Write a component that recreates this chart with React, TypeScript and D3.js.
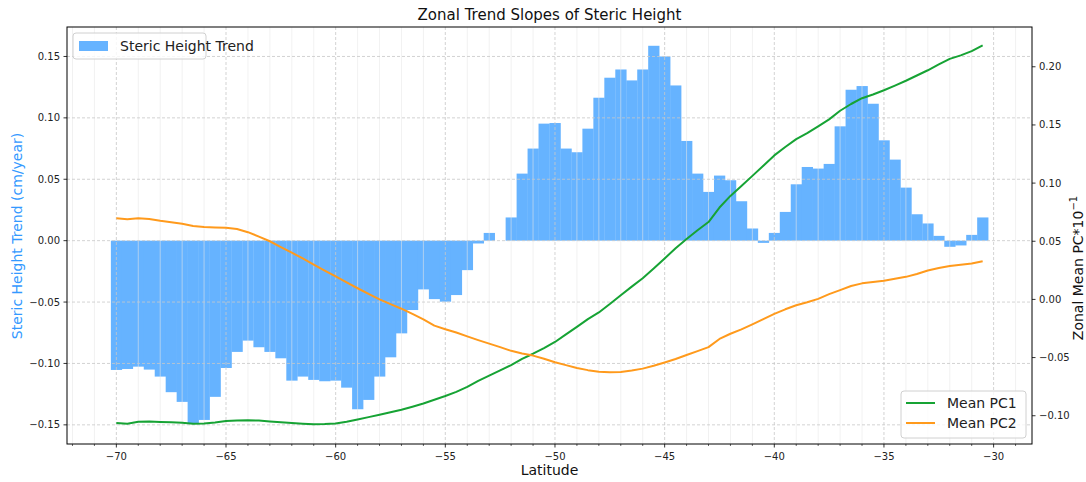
import React from "react";
import * as d3 from "d3";

// Latitude of each 0.5° zonal band (band centres)
const latitudes: number[] = d3.range(80).map((i) => -70 + i * 0.5);

// Steric height trend per band (cm/year)
const stericTrend: number[] = [
  -0.1053, -0.1045, -0.1026, -0.105, -0.1107, -0.1234, -0.1313, -0.1486, -0.146, -0.1272,
  -0.1037, -0.0906, -0.0814, -0.0868, -0.0906, -0.0958, -0.114, -0.1107, -0.1134, -0.1145,
  -0.114, -0.1197, -0.1373, -0.1297, -0.1107, -0.095, -0.0755, -0.0565, -0.0397, -0.0476,
  -0.0497, -0.0443, -0.024, -0.0023, 0.0063, 0.0, 0.0189, 0.0546, 0.075, 0.0953,
  0.0958, 0.075, 0.072, 0.0912, 0.1164, 0.1327, 0.1394, 0.1305, 0.1394, 0.1587,
  0.15, 0.1264, 0.0812, 0.0546, 0.0397, 0.053, 0.0492, 0.0321, 0.0099, -0.0018,
  0.0063, 0.0234, 0.0459, 0.06, 0.0587, 0.0625, 0.0931, 0.1229, 0.1259, 0.1115,
  0.0817, 0.066, 0.0432, 0.0215, 0.014, 0.0039, -0.005, -0.0039, 0.0047, 0.0189,
];

// Zonal mean of the first principal component (×10⁻¹)
const meanPC1: number[] = [
  -0.1063, -0.1068, -0.1052, -0.1049, -0.1053, -0.1056, -0.106, -0.1068, -0.1066, -0.1058,
  -0.1046, -0.104, -0.1038, -0.1042, -0.105, -0.1056, -0.1062, -0.1068, -0.1073, -0.1072,
  -0.1066, -0.1052, -0.1032, -0.1012, -0.0992, -0.097, -0.0948, -0.0922, -0.0895, -0.0862,
  -0.083, -0.0795, -0.0752, -0.07, -0.0655, -0.061, -0.0565, -0.0512, -0.0467, -0.0418,
  -0.0366, -0.03, -0.0236, -0.017, -0.0112, -0.004, 0.0036, 0.011, 0.0182, 0.0265,
  0.0352, 0.044, 0.052, 0.0595, 0.0665, 0.079, 0.089, 0.0975, 0.1062, 0.115,
  0.1238, 0.131, 0.1378, 0.143, 0.1488, 0.1548, 0.1622, 0.168, 0.173, 0.1762,
  0.1798, 0.1838, 0.188, 0.1925, 0.197, 0.202, 0.2068, 0.2098, 0.2135, 0.2185,
];

// Zonal mean of the second principal component (×10⁻¹)
const meanPC2: number[] = [
  0.0697, 0.069, 0.0697, 0.0692, 0.0676, 0.0664, 0.065, 0.0632, 0.0622, 0.0618,
  0.0616, 0.0605, 0.0578, 0.054, 0.05, 0.045, 0.0402, 0.0352, 0.03, 0.0248,
  0.0198, 0.0146, 0.0096, 0.0048, 0.0, -0.004, -0.008, -0.0125, -0.0172, -0.0225,
  -0.0256, -0.0285, -0.0318, -0.035, -0.038, -0.041, -0.0442, -0.0465, -0.0483, -0.051,
  -0.054, -0.0565, -0.059, -0.0608, -0.0622, -0.0627, -0.0625, -0.0612, -0.0595, -0.057,
  -0.0542, -0.0512, -0.0478, -0.0445, -0.041, -0.034, -0.0295, -0.0258, -0.0215, -0.017,
  -0.0124, -0.0085, -0.005, -0.0025, 0.0005, 0.0045, 0.008, 0.0115, 0.0138, 0.015,
  0.0161, 0.0178, 0.0194, 0.0218, 0.0248, 0.027, 0.0287, 0.0298, 0.0308, 0.0328,
];

const xTicks: number[] = [-70, -65, -60, -55, -50, -45, -40, -35, -30];
const leftTicks: number[] = [-0.15, -0.1, -0.05, 0, 0.05, 0.1, 0.15];
const rightTicks: number[] = [-0.1, -0.05, 0, 0.05, 0.1, 0.15, 0.2];

const W = 1086;
const H = 482;
const M = { left: 67, right: 1032, top: 27, bottom: 444 };
const FONT = "DejaVu Sans, sans-serif";
const BAR = "#66b3ff";
const GREEN = "#16a334";
const ORANGE = "#ff9a1c";
const BLUE_LABEL = "#3399ff";

const fmtMinus = (s: string) => s.replace("-", "\u2212");

export default function App() {
  const x = d3.scaleLinear().domain([-72.25, -28.25]).range([M.left, M.right]);
  const yL = d3.scaleLinear().domain([-0.1656, 0.174]).range([M.bottom, M.top]);
  const yR = d3.scaleLinear().domain([-0.1243, 0.2342]).range([M.bottom, M.top]);

  const minorX = d3.range(-72, -28).filter((v) => v % 5 !== 0);
  const bandHalf = 0.25;

  const lineR = d3
    .line<number>()
    .x((_, i) => x(latitudes[i]))
    .y((d) => yR(d))
    .curve(d3.curveLinear);

  const fmtL = d3.format(".2f");

  return (
    <svg width={W} height={H} style={{ display: "block", position: "absolute", left: 0, top: 0 }}>
      <rect x={0} y={0} width={W} height={H} fill="#fff" />

      {/* bars */}
      {stericTrend.map((v, i) => {
        const x0 = x(latitudes[i] - bandHalf);
        const x1 = x(latitudes[i] + bandHalf);
        const y0 = yL(Math.max(0, v));
        const y1 = yL(Math.min(0, v));
        return (
          <rect key={`b${i}`} x={x0} y={y0} width={x1 - x0 + 0.3} height={Math.max(0, y1 - y0)} fill={BAR} />
        );
      })}

      {/* minor vertical grid */}
      {minorX.map((v) => (
        <line key={`mg${v}`} x1={x(v)} x2={x(v)} y1={M.top} y2={M.bottom} stroke="#e6e6e6" strokeOpacity={0.7} strokeWidth={0.8} />
      ))}
      {/* major grid */}
      {xTicks.map((v) => (
        <line key={`gx${v}`} x1={x(v)} x2={x(v)} y1={M.top} y2={M.bottom} stroke="#c8c8c8" strokeWidth={0.8} strokeDasharray="3,2" />
      ))}
      {leftTicks.map((v) => (
        <line key={`gy${v}`} x1={M.left} x2={M.right} y1={yL(v)} y2={yL(v)} stroke="#c8c8c8" strokeWidth={0.8} strokeDasharray="3,2" />
      ))}

      {/* lines */}
      <path d={lineR(meanPC1) || ""} fill="none" stroke={GREEN} strokeWidth={2} strokeLinejoin="round" />
      <path d={lineR(meanPC2) || ""} fill="none" stroke={ORANGE} strokeWidth={2} strokeLinejoin="round" />

      {/* frame */}
      <rect x={M.left} y={M.top} width={M.right - M.left} height={M.bottom - M.top} fill="none" stroke="#000" strokeWidth={1} />

      {/* x axis */}
      {xTicks.map((v) => (
        <g key={`xt${v}`}>
          <line x1={x(v)} x2={x(v)} y1={M.bottom} y2={M.bottom + 3.5} stroke="#000" strokeWidth={0.8} />
          <text x={x(v)} y={M.bottom + 16} fontSize={10} fontFamily={FONT} textAnchor="middle" fill="#222">
            {fmtMinus(String(v))}
          </text>
        </g>
      ))}
      {minorX.map((v) => (
        <line key={`xm${v}`} x1={x(v)} x2={x(v)} y1={M.bottom} y2={M.bottom + 2} stroke="#000" strokeWidth={0.6} />
      ))}

      {/* left axis */}
      {leftTicks.map((v) => (
        <g key={`lt${v}`}>
          <line x1={M.left - 3.5} x2={M.left} y1={yL(v)} y2={yL(v)} stroke="#000" strokeWidth={0.8} />
          <text x={M.left - 7} y={yL(v) + 3.5} fontSize={10} fontFamily={FONT} textAnchor="end" fill="#222">
            {fmtMinus(fmtL(v))}
          </text>
        </g>
      ))}

      {/* right axis */}
      {rightTicks.map((v) => (
        <g key={`rt${v}`}>
          <line x1={M.right} x2={M.right + 3.5} y1={yR(v)} y2={yR(v)} stroke="#000" strokeWidth={0.8} />
          <text x={M.right + 7} y={yR(v) + 3.5} fontSize={10} fontFamily={FONT} textAnchor="start" fill="#222">
            {fmtMinus(fmtL(v))}
          </text>
        </g>
      ))}

      {/* titles */}
      <text x={(M.left + M.right) / 2} y={20} fontSize={15} fontFamily={FONT} textAnchor="middle" fill="#111">
        Zonal Trend Slopes of Steric Height
      </text>
      <text x={(M.left + M.right) / 2} y={475} fontSize={14} fontFamily={FONT} textAnchor="middle" fill="#111">
        Latitude
      </text>
      <text transform={`translate(22,236) rotate(-90)`} fontSize={14} fontFamily={FONT} textAnchor="middle" fill={BLUE_LABEL}>
        Steric Height Trend (cm/year)
      </text>
      <text transform={`translate(1083,268) rotate(-90)`} fontSize={14} fontFamily={FONT} textAnchor="middle" fill="#111">
        Zonal Mean PC*10
        <tspan dy={-6} fontSize={10}>{"\u22121"}</tspan>
      </text>

      {/* bar legend */}
      <g>
        <rect x={73} y={33} width={133} height={26} rx={3} fill="#fff" fillOpacity={0.8} stroke="#d0d0d0" strokeWidth={1} />
        <rect x={79} y={41} width={29} height={10} fill={BAR} />
        <text x={120} y={51} fontSize={14} fontFamily={FONT} fill="#222">
          Steric Height Trend
        </text>
      </g>

      {/* line legend */}
      <g>
        <rect x={901} y={391} width={125} height={47} rx={3} fill="#fff" fillOpacity={0.8} stroke="#d0d0d0" strokeWidth={1} />
        <line x1={906} x2={935} y1={403} y2={403} stroke={GREEN} strokeWidth={2} />
        <text x={947} y={408} fontSize={14} fontFamily={FONT} fill="#222">
          Mean PC1
        </text>
        <line x1={906} x2={935} y1={423} y2={423} stroke={ORANGE} strokeWidth={2} />
        <text x={947} y={428} fontSize={14} fontFamily={FONT} fill="#222">
          Mean PC2
        </text>
      </g>
    </svg>
  );
}
